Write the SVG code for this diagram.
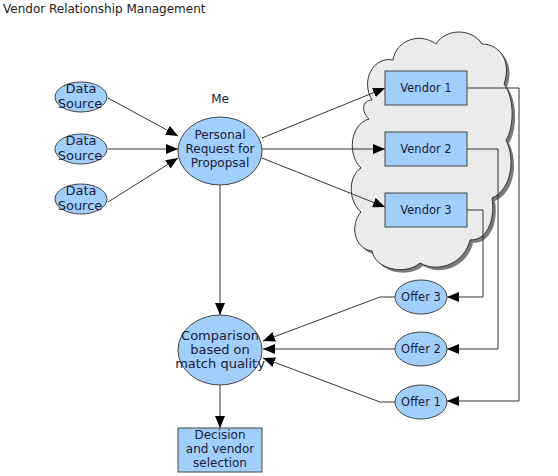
<svg xmlns="http://www.w3.org/2000/svg" width="558" height="476" viewBox="0 0 558 476">
<style>
text{font-family:"DejaVu Sans","Liberation Sans",sans-serif;font-size:11.5px;fill:#1a1a3a;text-anchor:middle}
.title{font-size:12px;text-anchor:start;fill:#222}
.big{font-size:13px}
.mid{font-size:12px}
.node{fill:#a2cffa;stroke:#444;stroke-width:1}
.con{fill:none;stroke:#333;stroke-width:1}
.cloud{fill:#ebebeb;stroke:#333;stroke-width:1}
.shadow{fill:#7a7a7a;stroke:none}
</style>
<defs>
<marker id="ah" viewBox="0 0 12 10" refX="12" refY="5" markerWidth="12" markerHeight="10" markerUnits="userSpaceOnUse" orient="auto">
<path d="M0,0 L12,5 L0,10 Z" fill="#000"/>
</marker>
<path id="cloudp" d="M372,100 C360,80 374,56 393,60 C396,40 420,32 436,44 C446,28 472,28 482,44 C500,44 512,62 504,84 C516,100 513,130 506,140 C516,160 511,190 492,198 C495,215 490,240 470,240 C465,262 440,274 420,263 C405,276 375,269 372,251 C355,249 349,226 361,212 C347,200 349,175 361,168 C347,155 350,124 369,119 C361,112 362,100 372,100 Z"/>
</defs>
<rect width="558" height="476" fill="#fff"/>
<text class="title" x="3" y="13">Vendor Relationship Management</text>

<g id="cloud">
<use href="#cloudp" class="shadow" transform="translate(3,3)"/>
<use href="#cloudp" class="cloud"/>
</g>

<g id="connectors">
<line class="con" x1="108" y1="98" x2="178" y2="136" marker-end="url(#ah)"/>
<line class="con" x1="108" y1="149" x2="178" y2="149" marker-end="url(#ah)"/>
<line class="con" x1="108" y1="202" x2="178" y2="158" marker-end="url(#ah)"/>
<line class="con" x1="262" y1="138" x2="385" y2="88" marker-end="url(#ah)"/>
<line class="con" x1="262" y1="149" x2="385" y2="149" marker-end="url(#ah)"/>
<line class="con" x1="262" y1="158" x2="385" y2="207" marker-end="url(#ah)"/>
<line class="con" x1="220" y1="185" x2="220" y2="315" marker-end="url(#ah)"/>
<line class="con" x1="220" y1="385" x2="220" y2="428" marker-end="url(#ah)"/>
<polyline class="con" points="467,88 519,88 519,401 447,401" marker-end="url(#ah)"/>
<polyline class="con" points="467,149 498,149 498,349 447,349" marker-end="url(#ah)"/>
<polyline class="con" points="467,210 483,210 483,297 447,297" marker-end="url(#ah)"/>
<polyline class="con" points="395,297 380,297 263,341" marker-end="url(#ah)"/>
<line class="con" x1="395" y1="349" x2="263" y2="349" marker-end="url(#ah)"/>
<polyline class="con" points="395,402 380,402 263,358" marker-end="url(#ah)"/>
</g>

<g id="ds1"><ellipse class="node" cx="81" cy="97" rx="26" ry="15"/><text class="big" x="81" y="93">Data</text><text class="big" x="80" y="108">Source</text></g>
<g id="ds2"><ellipse class="node" cx="81" cy="149" rx="26" ry="15"/><text class="big" x="81" y="145">Data</text><text class="big" x="80" y="160">Source</text></g>
<g id="ds3"><ellipse class="node" cx="81" cy="199" rx="26" ry="15"/><text class="big" x="81" y="195">Data</text><text class="big" x="80" y="210">Source</text></g>

<g id="me"><text class="mid" x="220" y="103">Me</text></g>
<g id="request"><ellipse class="node" cx="220" cy="151" rx="42" ry="34"/><text class="mid" x="220" y="139">Personal</text><text class="mid" x="220" y="153">Request for</text><text class="mid" x="220" y="167">Propopsal</text></g>

<g id="vendor1"><rect class="node" x="385" y="71" width="82" height="34"/><text x="426" y="92">Vendor 1</text></g>
<g id="vendor2"><rect class="node" x="385" y="132" width="82" height="34"/><text x="426" y="153">Vendor 2</text></g>
<g id="vendor3"><rect class="node" x="385" y="193" width="82" height="34"/><text x="426" y="214">Vendor 3</text></g>

<g id="offer3"><ellipse class="node" cx="421" cy="297" rx="26" ry="17"/><text x="421" y="301">Offer 3</text></g>
<g id="offer2"><ellipse class="node" cx="421" cy="349" rx="26" ry="17"/><text x="421" y="353">Offer 2</text></g>
<g id="offer1"><ellipse class="node" cx="421" cy="402" rx="26" ry="17"/><text x="421" y="406">Offer 1</text></g>

<g id="comparison"><ellipse class="node" cx="220" cy="350" rx="42" ry="35"/><text class="big" x="220" y="340">Comparison</text><text class="big" x="220" y="354">based on</text><text class="big" x="220" y="368">match quality</text></g>

<g id="decision"><rect class="node" x="178" y="428" width="84" height="44"/><text class="mid" x="220" y="439">Decision</text><text class="mid" x="220" y="453">and vendor</text><text class="mid" x="220" y="467">selection</text></g>
</svg>
